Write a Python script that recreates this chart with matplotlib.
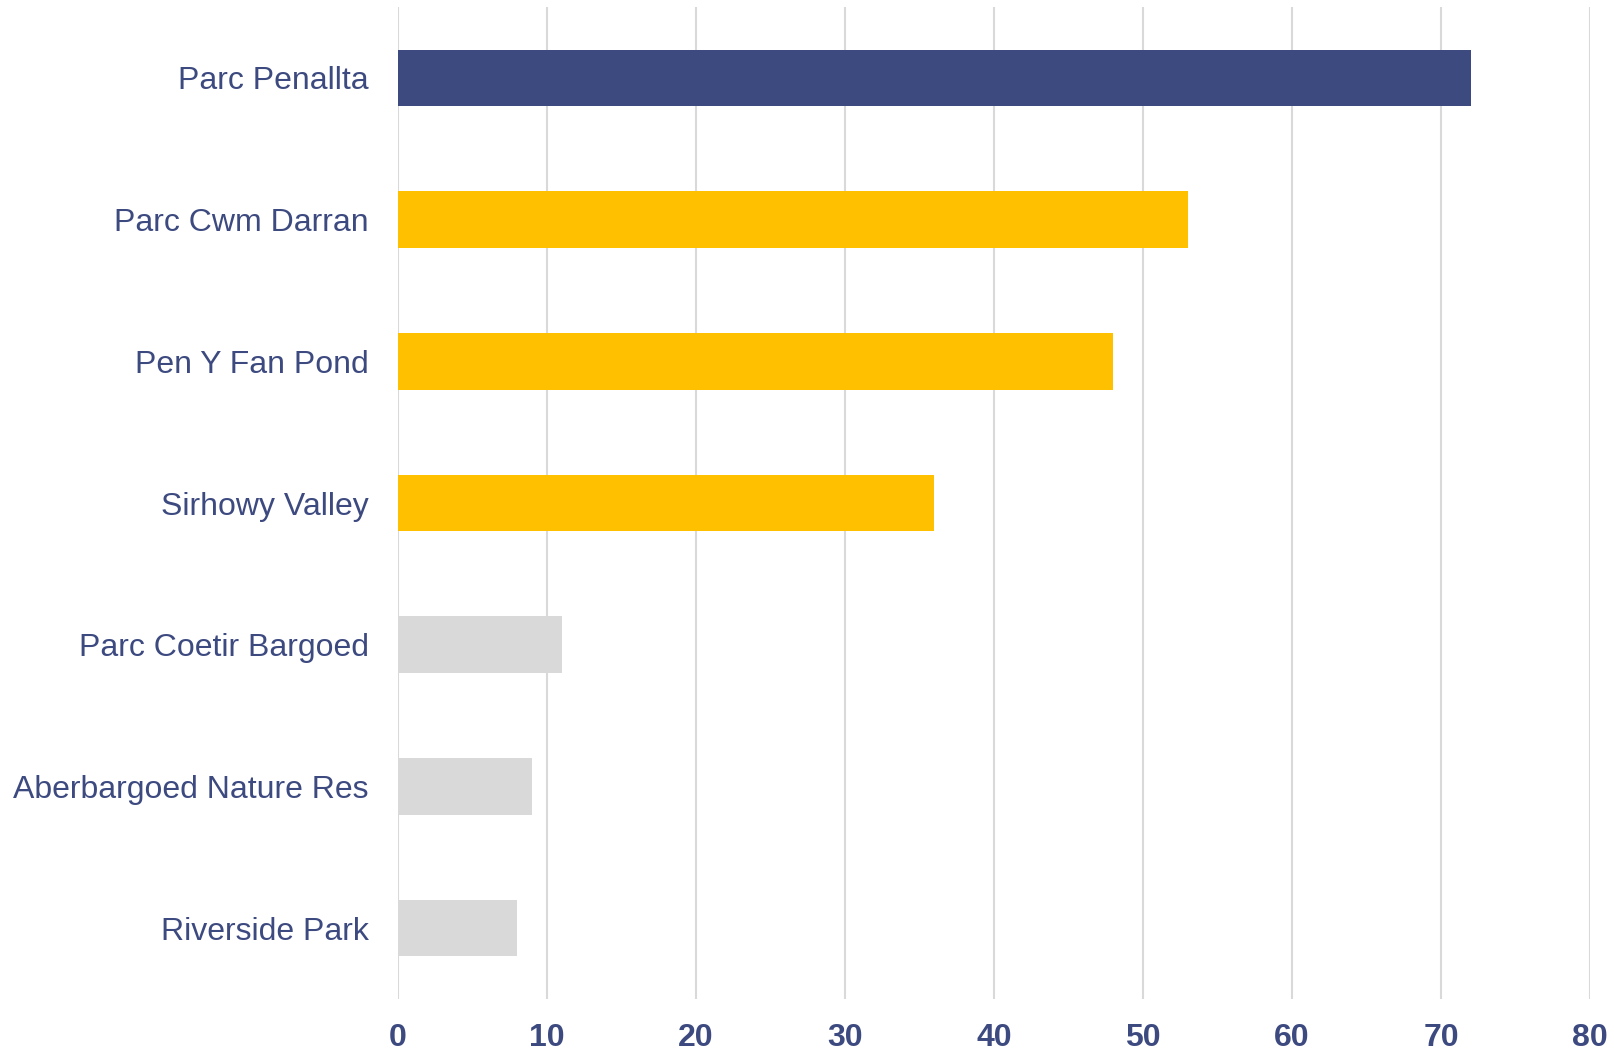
import matplotlib.pyplot as plt

plt.rcParams["font.family"] = ["Liberation Sans", "DejaVu Sans"]

# Visitor counts per site
sites = ["Parc Penallta", "Parc Cwm Darran", "Pen Y Fan Pond", "Sirhowy Valley",
         "Parc Coetir Bargoed", "Aberbargoed Nature Res", "Riverside Park"]
counts = [72, 53, 48, 36, 11, 9, 8]
bar_colors = ["#3D4A80", "#FFC000", "#FFC000", "#FFC000",
              "#D9D9D9", "#D9D9D9", "#D9D9D9"]
x_ticks = [0, 10, 20, 30, 40, 50, 60, 70, 80]

text_color = "#3D4A80"


def draw():
    fig = plt.figure(figsize=(16.14, 10.53), dpi=100)
    ax = fig.add_axes([398 / 1614, 1 - 999 / 1053, (1590 - 398) / 1614, (999 - 7) / 1053])

    pos = list(range(len(sites)))
    ax.barh(pos, counts, height=0.40, color=bar_colors, zorder=2)
    ax.set_ylim(len(sites) - 0.5, -0.5)
    ax.set_xlim(0, 80)

    ax.set_xticks(x_ticks)
    ax.set_xticklabels([str(t) for t in x_ticks], fontsize=23, fontweight="bold", color=text_color)
    ax.set_yticks(pos)
    ax.set_yticklabels(sites, fontsize=23, color=text_color)
    ax.tick_params(axis="both", length=0)
    ax.tick_params(axis="x", pad=17)
    ax.tick_params(axis="y", pad=21)

    ax.grid(axis="x", color="#D9D9D9", linewidth=1.5, zorder=0)
    for side in ["top", "right", "bottom", "left"]:
        ax.spines[side].set_visible(False)

    fig.savefig("out.png", dpi=100)
    plt.close(fig)


if __name__ == "__main__":
    draw()
